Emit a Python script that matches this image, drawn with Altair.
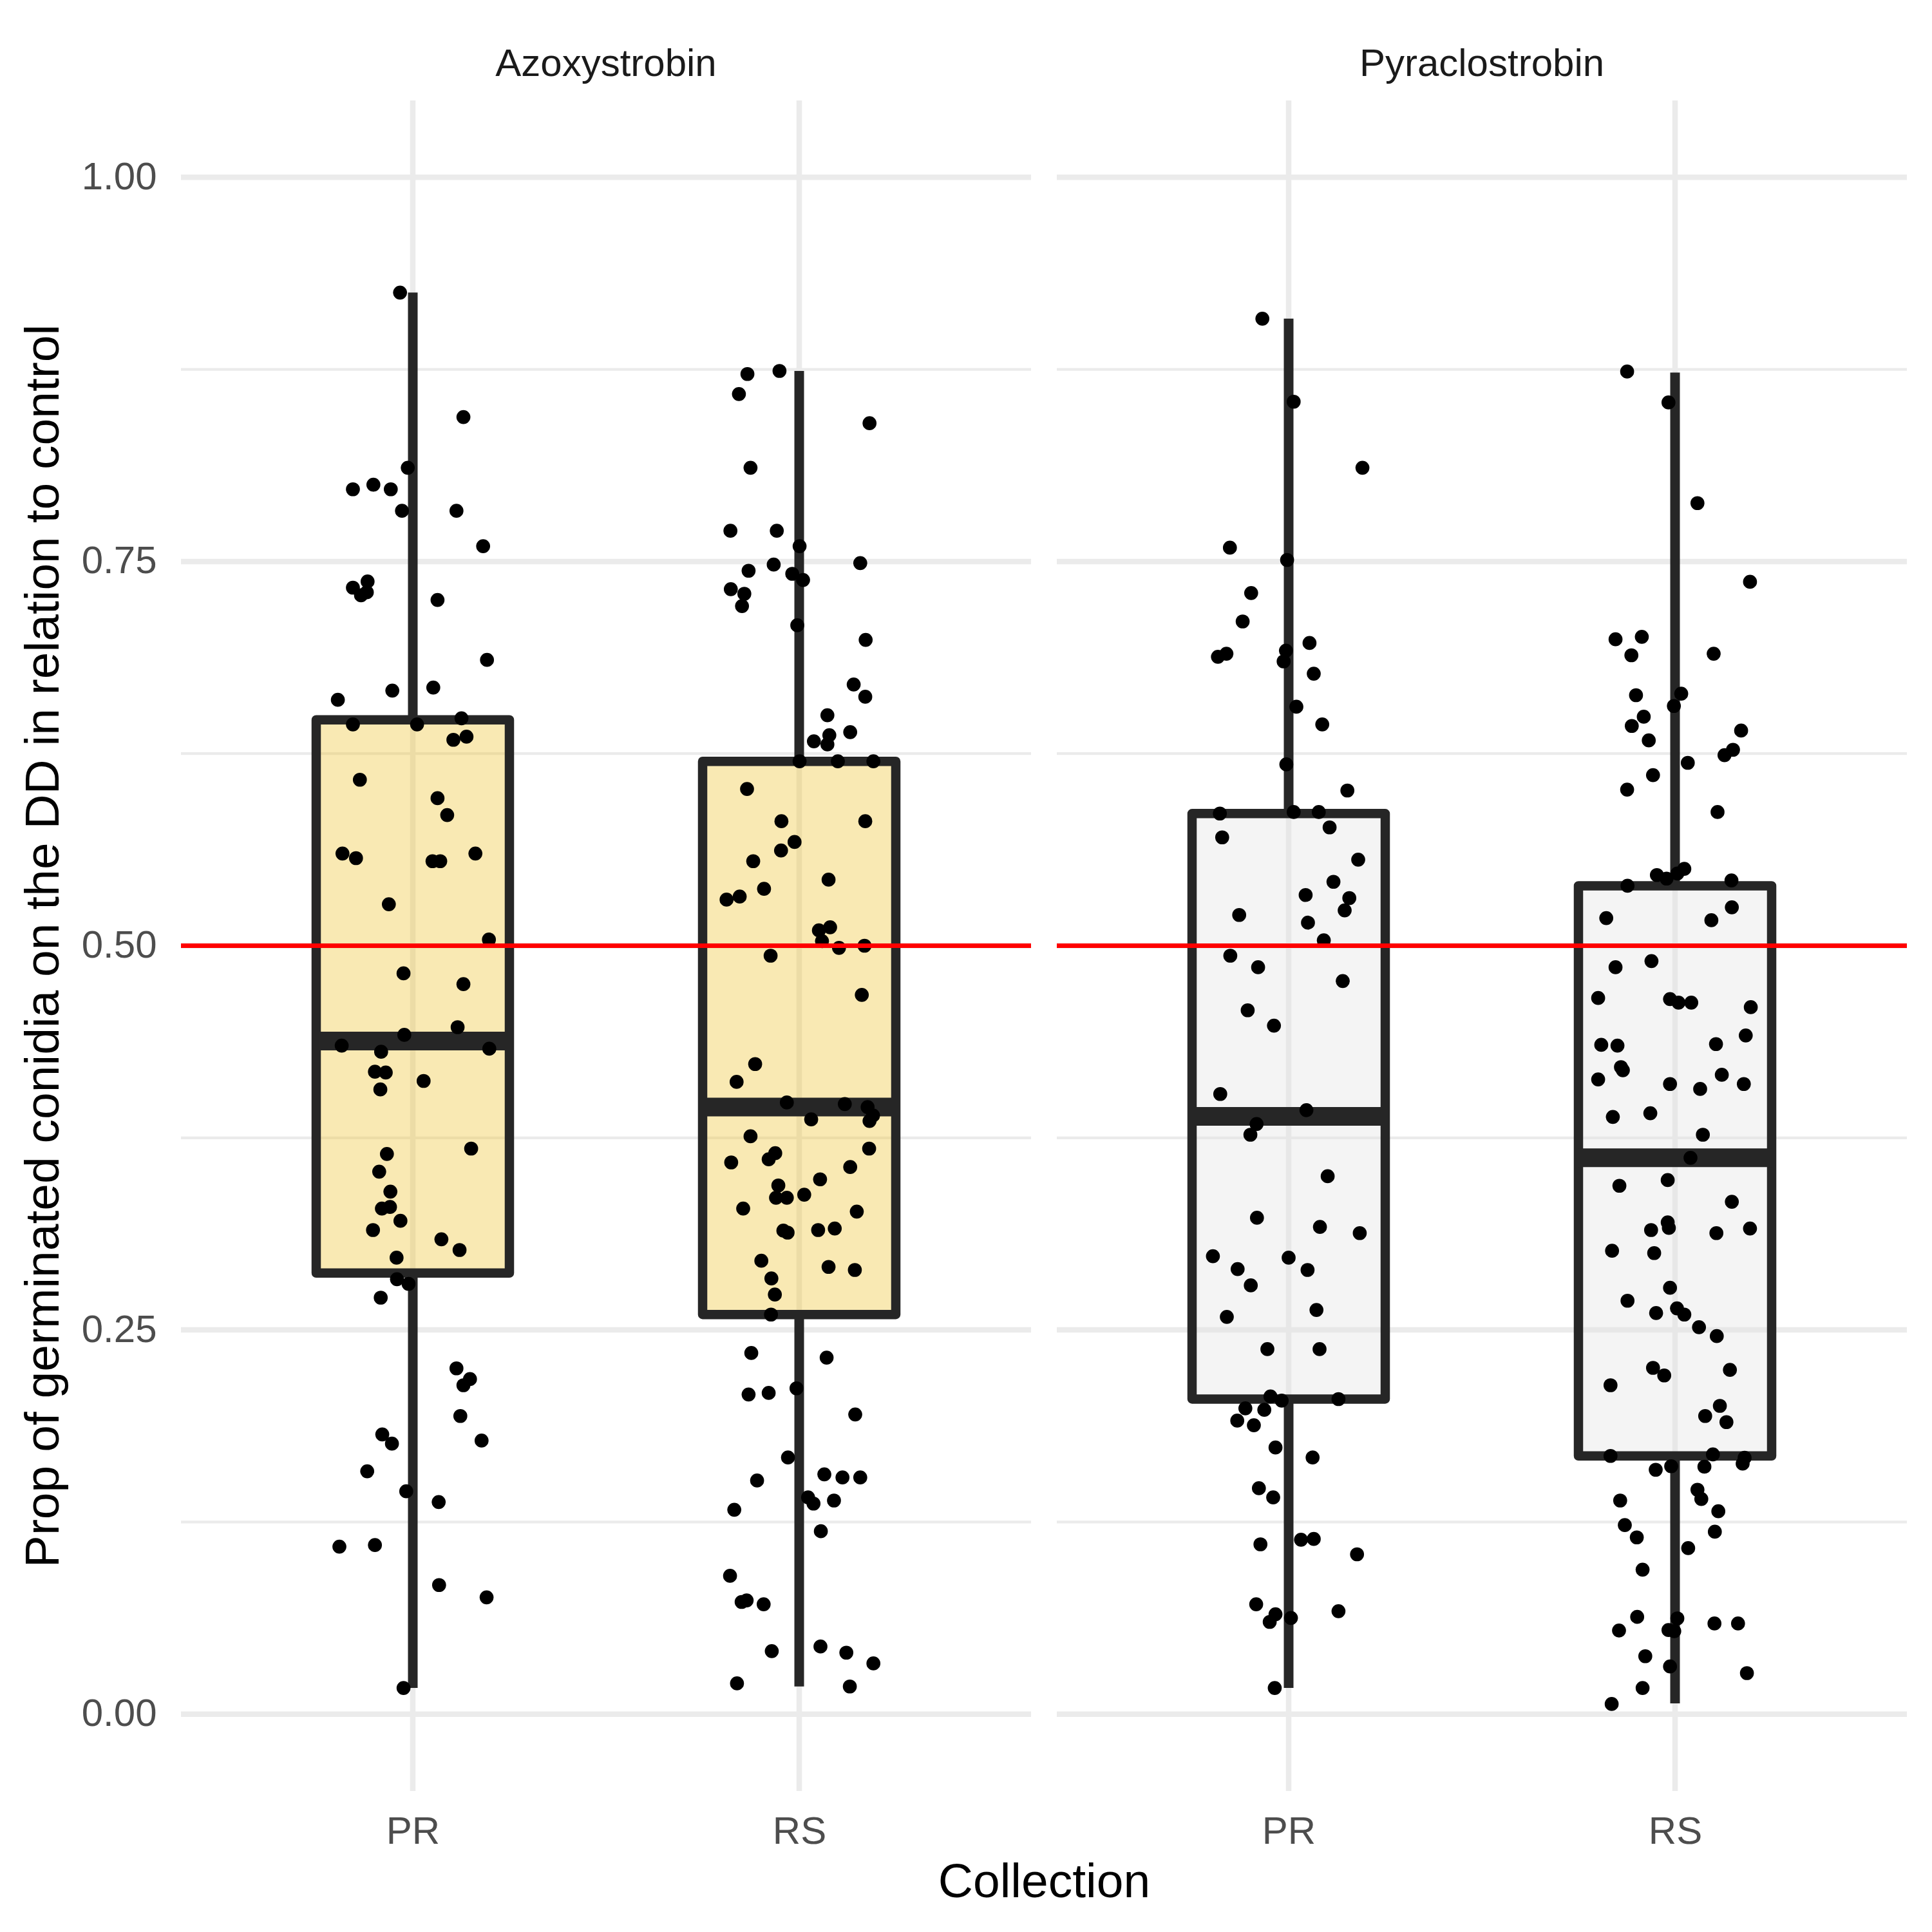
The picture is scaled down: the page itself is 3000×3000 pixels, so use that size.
import altair as alt
import pandas as pd

# ---------------- data ----------------
fungicides = ["Azoxystrobin", "Pyraclostrobin"]
collections = ["PR", "RS"]

azo_pr_prop = [0.925, 0.844, 0.811, 0.797, 0.800, 0.797, 0.783, 0.783, 0.760, 0.733,
               0.737, 0.728, 0.730, 0.725, 0.686, 0.660, 0.666, 0.668, 0.644, 0.644,
               0.648, 0.634, 0.636, 0.608, 0.596, 0.585, 0.560, 0.557, 0.555, 0.555,
               0.560, 0.527, 0.504, 0.482, 0.475, 0.447, 0.442, 0.435, 0.433, 0.431,
               0.418, 0.4175, 0.4065, 0.412, 0.368, 0.3645, 0.353, 0.340, 0.329, 0.330,
               0.321, 0.315, 0.309, 0.302, 0.297, 0.283, 0.280, 0.271, 0.225, 0.218,
               0.214, 0.194, 0.182, 0.176, 0.178, 0.158, 0.145, 0.138, 0.109, 0.110,
               0.084, 0.076, 0.017]
azo_pr_jitter = [-0.033, 0.131, -0.013, -0.155, -0.102, -0.057, -0.028, 0.113, 0.182, -0.155,
                 -0.117, -0.134, -0.119, 0.064, 0.192, -0.194, -0.053, 0.053, -0.155, 0.011,
                 0.126, 0.105, 0.139, -0.137, 0.064, 0.089, -0.182, -0.147, 0.051, 0.071,
                 0.162, -0.062, 0.197, -0.024, 0.131, 0.116, -0.022, -0.184, 0.198, -0.082,
                 -0.098, -0.070, -0.084, 0.028, 0.151, -0.067, -0.087, -0.058, -0.080, -0.059,
                 -0.032, -0.103, 0.074, 0.121, -0.042, -0.041, -0.011, -0.083, 0.113, 0.148,
                 0.131, 0.123, -0.079, -0.054, 0.178, -0.118, -0.017, 0.067, -0.190, -0.098,
                 0.068, 0.191, -0.024]

azo_rs_prop = [0.872, 0.874, 0.859, 0.840, 0.811, 0.770, 0.770, 0.760, 0.744, 0.748,
               0.742, 0.738, 0.749, 0.732, 0.729, 0.721, 0.7085, 0.699, 0.670, 0.662,
               0.650, 0.639, 0.637, 0.631, 0.633, 0.620, 0.620, 0.620, 0.602, 0.581,
               0.581, 0.5675, 0.562, 0.555, 0.543, 0.530, 0.532, 0.537, 0.510, 0.512,
               0.503, 0.4986, 0.500, 0.4935, 0.468, 0.423, 0.4114, 0.398, 0.397, 0.395,
               0.387, 0.386, 0.3895, 0.376, 0.359, 0.361, 0.365, 0.368, 0.356, 0.348,
               0.344, 0.336, 0.336, 0.338, 0.329, 0.327, 0.3146, 0.3133, 0.315, 0.316,
               0.295, 0.291, 0.289, 0.2835, 0.273, 0.260, 0.235, 0.232, 0.208, 0.209,
               0.212, 0.195, 0.167, 0.152, 0.156, 0.154, 0.154, 0.133, 0.141, 0.137,
               0.139, 0.119, 0.090, 0.073, 0.074, 0.0715, 0.041, 0.044, 0.040, 0.033,
               0.020, 0.018]
azo_rs_jitter = [-0.134, -0.051, -0.156, 0.182, -0.126, -0.178, -0.058, 0.001, -0.131, -0.066,
                 -0.018, 0.010, 0.158, -0.177, -0.142, -0.148, -0.005, 0.172, 0.141, 0.171,
                 0.073, 0.132, 0.078, 0.073, 0.038, 0.001, 0.100, 0.192, -0.135, -0.046,
                 0.171, -0.012, -0.047, -0.119, 0.076, -0.188, -0.154, -0.091, 0.051, 0.080,
                 0.059, 0.103, 0.169, -0.074, 0.162, -0.114, -0.162, -0.032, 0.118, 0.177,
                 0.031, 0.182, 0.191, -0.126, -0.176, -0.079, -0.062, 0.181, 0.132, 0.054,
                 -0.054, -0.060, -0.032, 0.013, -0.145, 0.149, -0.041, -0.030, 0.049, 0.092,
                 -0.098, 0.076, 0.144, -0.072, -0.063, -0.073, -0.124, 0.071, -0.131, -0.079,
                 -0.007, 0.145, -0.029, -0.109, 0.065, 0.112, 0.158, -0.168, 0.023, 0.037,
                 0.090, 0.056, -0.179, -0.149, -0.136, -0.092, -0.071, 0.055, 0.122, 0.192,
                 -0.161, 0.131]

pyr_pr_prop = [0.908, 0.854, 0.811, 0.759, 0.751, 0.7295, 0.711, 0.688, 0.690, 0.692,
               0.685, 0.697, 0.677, 0.6555, 0.644, 0.618, 0.601, 0.586, 0.587, 0.587,
               0.577, 0.5705, 0.556, 0.5416, 0.533, 0.531, 0.523, 0.520, 0.515, 0.5035,
               0.4935, 0.486, 0.477, 0.458, 0.448, 0.4035, 0.393, 0.384, 0.377, 0.350,
               0.323, 0.317, 0.313, 0.298, 0.297, 0.2896, 0.289, 0.279, 0.2585, 0.263,
               0.2375, 0.2375, 0.2067, 0.204, 0.205, 0.199, 0.198, 0.191, 0.188, 0.1735,
               0.167, 0.147, 0.141, 0.1105, 0.1135, 0.114, 0.104, 0.0715, 0.065, 0.060,
               0.0626, 0.067, 0.017]
pyr_pr_jitter = [-0.068, 0.013, 0.191, -0.152, -0.004, -0.097, -0.119, -0.183, -0.161, -0.007,
                 -0.013, 0.054, 0.065, 0.020, 0.087, -0.006, 0.152, -0.178, 0.013, 0.078,
                 0.106, -0.172, 0.180, 0.116, 0.044, 0.157, 0.145, -0.128, 0.050, 0.091,
                 -0.151, -0.079, 0.140, -0.106, -0.038, -0.177, 0.046, -0.083, -0.099, 0.101,
                 -0.082, 0.081, 0.184, -0.196, 0.000, -0.132, 0.049, -0.098, -0.160, 0.072,
                 -0.055, 0.080, -0.047, -0.018, 0.129, -0.112, -0.063, -0.133, -0.090, -0.034,
                 0.062, -0.077, -0.040, -0.073, 0.032, 0.065, 0.177, -0.084, -0.034, -0.049,
                 0.006, 0.129, -0.036]

pyr_rs_prop = [0.8736, 0.8535, 0.788, 0.7368, 0.6994, 0.701, 0.689, 0.690, 0.663, 0.664,
               0.656, 0.649, 0.643, 0.640, 0.6336, 0.624, 0.6275, 0.619, 0.611, 0.6016,
               0.587, 0.546, 0.5437, 0.547, 0.550, 0.539, 0.5425, 0.518, 0.525, 0.5166,
               0.486, 0.490, 0.466, 0.4653, 0.463, 0.463, 0.460, 0.4355, 0.435, 0.436,
               0.4416, 0.421, 0.419, 0.413, 0.410, 0.4068, 0.416, 0.410, 0.3886, 0.391,
               0.377, 0.362, 0.3438, 0.3475, 0.3334, 0.315, 0.320, 0.3164, 0.313, 0.316,
               0.3015, 0.300, 0.2774, 0.269, 0.261, 0.264, 0.260, 0.2518, 0.246, 0.2253,
               0.2204, 0.224, 0.214, 0.2006, 0.194, 0.190, 0.168, 0.169, 0.1668, 0.163,
               0.159, 0.1613, 0.161, 0.146, 0.140, 0.139, 0.132, 0.123, 0.115, 0.1187,
               0.108, 0.094, 0.0633, 0.0623, 0.059, 0.059, 0.0544, 0.0547, 0.054, 0.0377,
               0.031, 0.0267, 0.017, 0.0066]
pyr_rs_jitter = [-0.124, -0.017, 0.058, 0.194, -0.154, -0.086, -0.113, 0.100, -0.101, 0.016,
                 -0.003, -0.081, -0.112, 0.171, -0.068, 0.128, 0.150, 0.033, -0.057, -0.124,
                 0.110, -0.047, -0.022, 0.006, 0.024, -0.123, 0.146, -0.178, 0.147, 0.094,
                 -0.154, -0.061, -0.199, -0.013, 0.009, 0.042, 0.196, -0.191, -0.149, 0.106,
                 0.183, -0.140, -0.135, -0.199, -0.013, 0.065, 0.121, 0.178, -0.161, -0.064,
                 0.072, 0.040, -0.144, -0.019, 0.147, -0.062, -0.019, -0.016, 0.107, 0.194,
                 -0.163, -0.054, -0.013, -0.123, -0.049, 0.005, 0.024, 0.062, 0.108, -0.057,
                 -0.028, 0.142, -0.167, 0.116, 0.078, 0.133, -0.167, 0.098, 0.180, 0.175,
                 -0.050, -0.010, 0.076, 0.058, 0.068, -0.142, 0.112, -0.130, -0.099, 0.103,
                 0.034, -0.084, -0.098, 0.006, 0.102, 0.163, -0.145, -0.017, -0.002, -0.077,
                 -0.013, 0.186, -0.084, -0.164]

# boxplot statistics (order: Azo-PR, Azo-RS, Pyr-PR, Pyr-RS)
box_fungicide = ["Azoxystrobin", "Azoxystrobin", "Pyraclostrobin", "Pyraclostrobin"]
box_collection = ["PR", "RS", "PR", "RS"]
box_low = [0.017, 0.018, 0.017, 0.007]
box_q1 = [0.287, 0.260, 0.205, 0.168]
box_median = [0.438, 0.395, 0.389, 0.362]
box_q3 = [0.647, 0.620, 0.586, 0.539]
box_high = [0.925, 0.874, 0.908, 0.873]

major_breaks = [0.0, 0.25, 0.5, 0.75, 1.0]
minor_breaks = [0.125, 0.375, 0.625, 0.875]
reference_line = [0.5]

y_title = "Prop of germinated conidia on the DD in relation to control"
x_title = "Collection"

# ---------------- tables ----------------
groups = [
    ("Azoxystrobin", "PR", azo_pr_prop, azo_pr_jitter),
    ("Azoxystrobin", "RS", azo_rs_prop, azo_rs_jitter),
    ("Pyraclostrobin", "PR", pyr_pr_prop, pyr_pr_jitter),
    ("Pyraclostrobin", "RS", pyr_rs_prop, pyr_rs_jitter),
]
rows = []
for f, c, ys_, js_ in groups:
    for v, j in zip(ys_, js_):
        rows.append({"fungicide": f, "collection": c, "prop": v, "jitter": j})
points_df = pd.DataFrame(rows)

box_df = pd.DataFrame({
    "fungicide": box_fungicide, "collection": box_collection,
    "low": box_low, "q1": box_q1, "median": box_median, "q3": box_q3, "high": box_high,
})
panels_df = pd.DataFrame({"fungicide": fungicides})
major_df = pd.DataFrame([{"fungicide": f, "v": v} for f in fungicides for v in major_breaks])
minor_df = pd.DataFrame([{"fungicide": f, "v": v} for f in fungicides for v in minor_breaks])
vgrid_df = pd.DataFrame([{"fungicide": f, "collection": c} for f in fungicides for c in collections])
ref_df = pd.DataFrame([{"fungicide": f, "v": v} for f in fungicides for v in reference_line])

# ---------------- layout (ggplot-like discrete scale inside two panels) ----------------
SHIFT = 2.2 + 1 / 15.0          # panel width (2.2 units) + gap between panels
X_LO, X_HI = 0.4, 2.6
BOX_HALF = 0.25
xs = alt.Scale(domain=[X_LO, X_HI + SHIFT], nice=False, zero=False)
ys = alt.Scale(domain=[-0.05, 1.05], nice=False, zero=False)

panel_expr = f"(datum.fungicide === '{fungicides[1]}' ? {SHIFT} : 0)"
cat_expr = f"(datum.collection === '{collections[1]}' ? 2 : 1) + {panel_expr}"

FONT = "Liberation Sans"
BOX_LINE = "#262626"
GRID = "#EBEBEB"

x_axis = alt.Axis(
    values=[1, 2, 1 + SHIFT, 2 + SHIFT],
    labelExpr=(f"(datum.value < 1.5 || (datum.value > {X_HI + 0.1} && datum.value < {1.5 + SHIFT}))"
               f" ? '{collections[0]}' : '{collections[1]}'"),
    domain=False, ticks=False, tickSize=0, grid=False,
    labelFontSize=60, labelColor="#4D4D4D", labelFont=FONT, labelPadding=34,
    titleFontSize=75, titleFont=FONT, titleColor="black", titleFontWeight="normal",
    titlePadding=12,
)
y_axis = alt.Axis(
    values=major_breaks, format=".2f",
    domain=False, ticks=False, tickSize=0, grid=False,
    labelFontSize=60, labelColor="#4D4D4D", labelFont=FONT, labelPadding=38,
    titleFontSize=75, titleFont=FONT, titleColor="black", titleFontWeight="normal",
    titlePadding=20,
)


def X(field):
    return alt.X(field, scale=xs, axis=x_axis, title=x_title)


def Y(field):
    return alt.Y(field, scale=ys, axis=y_axis, title=y_title)


def panel_span(ch):
    return (ch.transform_calculate(x0=f"{X_LO} + {panel_expr}")
              .transform_calculate(x1=f"{X_HI} + {panel_expr}"))


minor_grid = panel_span(alt.Chart(minor_df)).mark_rule(color=GRID, strokeWidth=4.3).encode(
    x=X("x0:Q"), x2="x1:Q", y=Y("v:Q"),
)
major_grid = panel_span(alt.Chart(major_df)).mark_rule(color=GRID, strokeWidth=8.5).encode(
    x=X("x0:Q"), x2="x1:Q", y=Y("v:Q"),
)
vgrid = alt.Chart(vgrid_df).transform_calculate(cx=cat_expr).transform_calculate(
    ylo="-0.05").transform_calculate(yhi="1.05").mark_rule(
    color=GRID, strokeWidth=8.5).encode(
    x=X("cx:Q"), y=Y("ylo:Q"), y2="yhi:Q",
)

box_base = alt.Chart(box_df).transform_calculate(cx=cat_expr).transform_calculate(
    bx0=f"datum.cx - {BOX_HALF}").transform_calculate(bx1=f"datum.cx + {BOX_HALF}")

whisker_hi = box_base.mark_rule(color=BOX_LINE, strokeWidth=15, strokeCap="butt").encode(
    x=X("cx:Q"), y=Y("q3:Q"), y2="high:Q",
)
whisker_lo = box_base.mark_rule(color=BOX_LINE, strokeWidth=15, strokeCap="butt").encode(
    x=X("cx:Q"), y=Y("low:Q"), y2="q1:Q",
)
boxes = box_base.mark_rect(stroke=BOX_LINE, strokeWidth=14.5, fillOpacity=0.38,
                           strokeJoin="round").encode(
    x=X("bx0:Q"), x2="bx1:Q", y=Y("q1:Q"), y2="q3:Q",
    fill=alt.Fill("fungicide:N", scale=alt.Scale(domain=fungicides,
                                                 range=["#F0C436", "#E2E2E2"]), legend=None),
)
medians = box_base.mark_rule(color=BOX_LINE, strokeWidth=29, strokeCap="butt").encode(
    x=X("bx0:Q"), x2="bx1:Q", y=Y("median:Q"),
)

points = alt.Chart(points_df).transform_calculate(cx=cat_expr).transform_calculate(
    px="datum.cx + datum.jitter").mark_circle(size=470, color="black", opacity=1).encode(
    x=X("px:Q"), y=Y("prop:Q"),
)

ref_line = panel_span(alt.Chart(ref_df)).mark_rule(color="#FF0000", strokeWidth=7).encode(
    x=X("x0:Q"), x2="x1:Q", y=Y("v:Q"),
)

strip = alt.Chart(panels_df).transform_calculate(
    tx=f"{(X_LO + X_HI) / 2} + {panel_expr}").mark_text(
    fontSize=60, font=FONT, color="#1A1A1A", align="center", baseline="alphabetic").encode(
    x=X("tx:Q"),
    y=alt.value(-38),
    text="fungicide:N",
)

chart = alt.layer(
    minor_grid, major_grid, vgrid, whisker_hi, whisker_lo, boxes, medians, points, ref_line, strip
).properties(
    width=2680, height=2625,
    autosize=alt.AutoSizeParams(type="none"),
    padding={"left": 281, "top": 156, "right": 39, "bottom": 219},
    background="white",
).configure(font=FONT).configure_view(strokeWidth=0)

chart.save("out.html", embed_options={"renderer": "svg", "actions": False})
